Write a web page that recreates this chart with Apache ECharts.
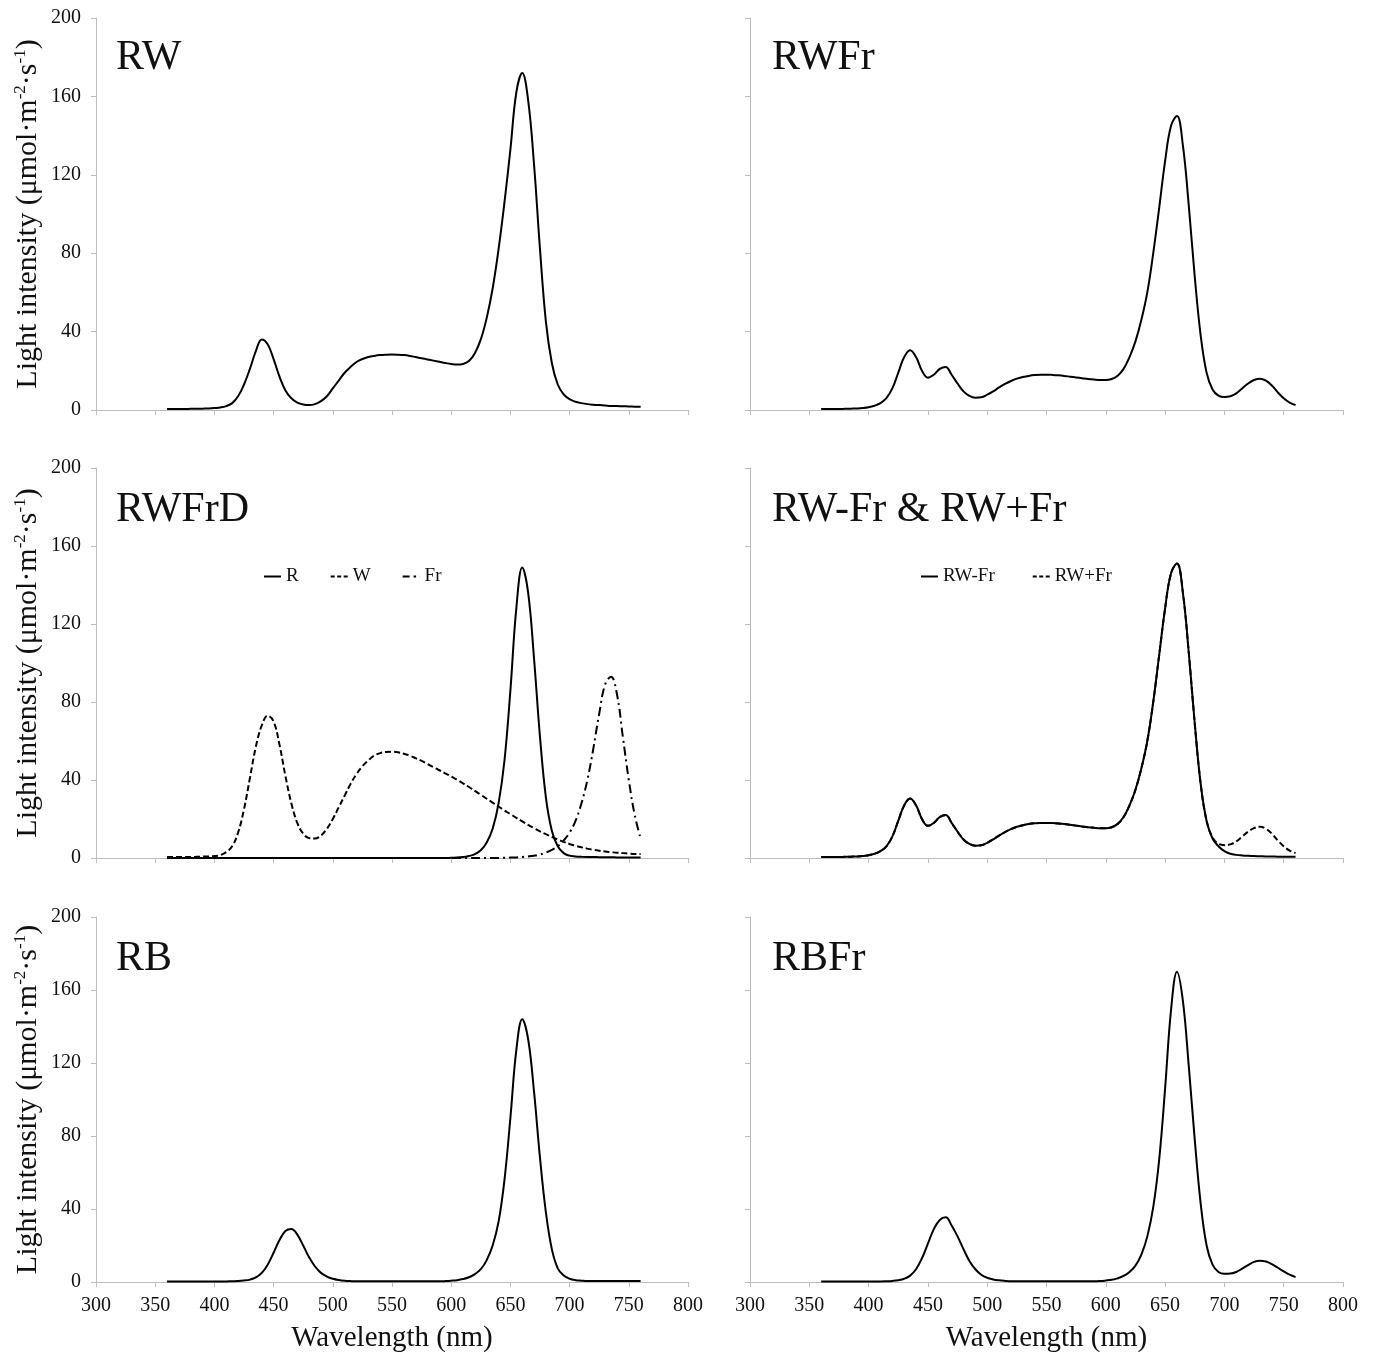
<!DOCTYPE html>
<html>
<head>
<meta charset="utf-8">
<script src="https://cdn.jsdelivr.net/npm/echarts@6/dist/echarts.min.js"></script>
<style>
html,body{margin:0;padding:0;background:#fff;}
#chart{width:1374px;height:1354px;}
</style>
</head>
<body>
<div id="chart"></div>
<script>
// Wavelength (nm), 360..760
const wavelength = [
  360,365,370,375,380,385,390,395,400,405,
  410,415,420,425,430,435,440,445,450,455,
  460,465,470,475,480,485,490,495,500,505,
  510,515,520,525,530,535,540,545,550,555,
  560,565,570,575,580,585,590,595,600,605,
  610,615,620,625,630,635,640,645,650,655,
  660,665,670,675,680,685,690,695,700,705,
  710,715,720,725,730,735,740,745,750,755,
  760
];
const xTicks = [300,350,400,450,500,550,600,650,700,750,800];
const yTicks = [0,40,80,120,160,200];

const RW = [
  0.5,0.5,0.5,0.5,0.6,0.6,0.7,0.8,1.0,1.3,
  2.0,3.5,7,13,21,30,36,33.5,26,17,
  10,6,3.8,2.8,2.5,3,4.5,7,11,15,
  19,22,24.5,26,27,27.6,28,28.2,28.3,28.2,
  28,27.6,27,26.4,25.8,25.2,24.6,24,23.5,23.2,
  23.5,25,29,36,47,62,82,106,133,162,
  172,158,125,82,45,24,13,8,5.5,4.2,
  3.5,3,2.7,2.5,2.3,2.1,2.0,1.9,1.8,1.7,
  1.6
];
const RWFr = [
  0.5,0.5,0.5,0.5,0.6,0.7,0.8,1.0,1.4,2.2,
  3.5,6,11,19,27,30.5,27,20,16.5,18,
  21,22,18,13.5,9.5,7.2,6.3,6.5,7.8,9.5,
  11.5,13.3,14.8,16,16.8,17.4,17.8,18,18,17.9,
  17.7,17.4,17,16.6,16.2,15.8,15.5,15.3,15.3,15.8,
  17.5,21,27,35,46,60,80,103,127,145,
  150,135,104,68,38,19,10.5,7.3,6.6,7,
  8.5,11,13.5,15.3,16,15,12.5,9,6,3.8,
  2.5
];
const R = [
  0,0,0,0,0,0,0,0,0,0,
  0,0,0,0,0,0,0,0,0,0,
  0,0,0,0,0,0,0,0,0,0,
  0,0,0,0,0,0,0,0,0,0,
  0,0,0,0,0,0,0,0,0.1,0.2,
  0.5,1,2,4,8,15,28,50,86,128,
  149,136,102,62,31,14,6,2.5,1.2,0.8,
  0.6,0.5,0.5,0.4,0.4,0.4,0.3,0.3,0.3,0.3,
  0.3
];
const W = [
  0.5,0.5,0.5,0.5,0.5,0.6,0.7,0.8,1,1.5,
  3,6,13,25,41,57,68,73,70,58,
  42,28,18,12.5,10.2,10,11.5,15,20,26,
  32,38,43,47,50,52.5,53.8,54.4,54.5,54.2,
  53.5,52.5,51.2,49.8,48.2,46.6,45,43.4,41.8,40.1,
  38.3,36.4,34.4,32.4,30.4,28.4,26.4,24.4,22.5,20.6,
  18.8,17,15.3,13.7,12.2,10.8,9.5,8.3,7.2,6.3,
  5.5,4.8,4.2,3.7,3.3,3,2.7,2.5,2.3,2.1,
  2
];
const Fr = [
  0,0,0,0,0,0,0,0,0,0,
  0,0,0,0,0,0,0,0,0,0,
  0,0,0,0,0,0,0,0,0,0,
  0,0,0,0,0,0,0,0,0,0,
  0,0,0,0,0,0,0,0,0,0,
  0,0,0,0,0,0,0,0.1,0.2,0.3,
  0.5,0.8,1.2,1.8,2.8,4.2,6,9,13,19,
  28,40,56,74,89,93,84,62,40,22,
  10
];
const RWminusFr = [
  0.5,0.5,0.5,0.5,0.6,0.7,0.8,1.0,1.4,2.2,
  3.5,6,11,19,27,30.5,27,20,16.5,18,
  21,22,18,13.5,9.5,7.2,6.3,6.5,7.8,9.5,
  11.5,13.3,14.8,16,16.8,17.4,17.8,18,18,17.9,
  17.7,17.4,17,16.6,16.2,15.8,15.5,15.3,15.3,15.8,
  17.5,21,27,35,46,60,80,104,128,146,
  151,136,105,69,38,19,10,6,3.5,2.2,
  1.6,1.3,1.1,1,0.9,0.8,0.8,0.7,0.7,0.6,
  0.6
];
const RWplusFr = [
  0.5,0.5,0.5,0.5,0.6,0.7,0.8,1.0,1.4,2.2,
  3.5,6,11,19,27,30.5,27,20,16.5,18,
  21,22,18,13.5,9.5,7.2,6.3,6.5,7.8,9.5,
  11.5,13.3,14.8,16,16.8,17.4,17.8,18,18,17.9,
  17.7,17.4,17,16.6,16.2,15.8,15.5,15.3,15.3,15.8,
  17.5,21,27,35,46,60,80,104,128,146,
  151,136,105,69,38,19,10.5,7.3,6.6,7,
  8.5,11,13.5,15.3,16,15,12.5,9,6,3.8,
  2.5
];
const RB = [
  0.3,0.3,0.3,0.3,0.3,0.3,0.3,0.3,0.3,0.3,
  0.3,0.4,0.5,0.8,1.3,2.5,5,9.5,16,23,
  28,29,26,20,13.5,8.5,5,3,1.8,1.1,
  0.7,0.5,0.4,0.4,0.4,0.4,0.4,0.4,0.4,0.4,
  0.4,0.4,0.4,0.4,0.4,0.4,0.4,0.5,0.7,1,
  1.6,2.6,4.3,7,12,20,33,56,90,127,
  144,133,104,68,38,18,7.5,3.5,1.8,1,
  0.7,0.5,0.5,0.5,0.5,0.5,0.5,0.5,0.5,0.5,
  0.5
];
const RBFr = [
  0.3,0.3,0.3,0.3,0.3,0.3,0.3,0.3,0.3,0.3,
  0.3,0.4,0.6,1,1.8,3.5,7,13,21,29,
  34,35.5,31,25,18,11.5,7,4,2.3,1.4,
  0.9,0.6,0.4,0.4,0.4,0.4,0.4,0.4,0.4,0.4,
  0.4,0.4,0.4,0.4,0.4,0.4,0.4,0.5,0.8,1.2,
  2,3.3,5.5,9,15,25,41,67,106,149,
  170,154,118,78,43,20,9.5,5.5,4.5,4.6,
  5.5,7.3,9.3,11,11.6,11.2,9.8,7.8,5.8,4,
  2.7
];
const panelTitles = ['RW','RWFr','RWFrD','RW-Fr & RW+Fr','RB','RBFr'];

const FONT = 'Liberation Serif, Times New Roman, serif';
const AXIS_GRAY = '#bdbdbd';
const TXT = '#111';

const grids = [
  {left:96, top:18, width:592, height:392},
  {left:750, top:18, width:593, height:392},
  {left:96, top:468, width:592, height:390},
  {left:750, top:468, width:593, height:390},
  {left:96, top:917, width:592, height:365},
  {left:750, top:917, width:593, height:365}
];

function pairs(arr){ return wavelength.map((w,i)=>[w,arr[i]]); }

const xAxes = grids.map((g,i)=>({
  type:'value', gridIndex:i, min:xTicks[0], max:xTicks[xTicks.length-1], interval:50,
  axisLine:{show:true, lineStyle:{color:AXIS_GRAY, width:1}},
  axisTick:{show:true, length:5, lineStyle:{color:AXIS_GRAY}},
  splitLine:{show:false},
  axisLabel:{show: i>=4, fontFamily:FONT, fontSize:20, color:TXT, margin:14},
  name: i>=4 ? 'Wavelength (nm)' : '',
  nameLocation:'middle', nameGap:42,
  nameTextStyle:{fontFamily:FONT, fontSize:29, color:TXT}
}));

const yAxes = grids.map((g,i)=>({
  type:'value', gridIndex:i, min:yTicks[0], max:yTicks[yTicks.length-1], interval:40,
  axisLine:{show:true, lineStyle:{color:AXIS_GRAY, width:1}},
  axisTick:{show:true, length:5, lineStyle:{color:AXIS_GRAY}},
  splitLine:{show:false},
  axisLabel:{show: i%2===0, fontFamily:FONT, fontSize:20, color:TXT, margin:15},
  name: i%2===0 ? '{a|Light intensity (μmol·m}{s|-2}{a|·s}{s|-1}{a|)}' : '',
  nameLocation:'middle', nameGap:52, nameRotate:90,
  nameTextStyle:{
    fontFamily:FONT, fontSize:30, color:TXT,
    rich:{
      a:{fontFamily:FONT, fontSize:30, color:TXT, lineHeight:32},
      s:{fontFamily:FONT, fontSize:17, color:TXT, lineHeight:18, verticalAlign:'top'}
    }
  }
}));

function line(name, data, idx, type, z){
  return {
    name:name, type:'line', xAxisIndex:idx, yAxisIndex:idx,
    data:pairs(data), symbol:'none', smooth:0.4, z:z||2,
    lineStyle:{color:'#000', width:2, type:type||'solid'},
    itemStyle:{color:'#000'}, silent:true
  };
}

const series = [
  line('RW', RW, 0),
  line('RWFr', RWFr, 1),
  line('W', W, 2, [6,3], 2),
  line('Fr', Fr, 2, [9,4,2,4], 2),
  line('R', R, 2, 'solid', 3),
  line('RW+Fr', RWplusFr, 3, [6,3], 2),
  line('RW-Fr', RWminusFr, 3, 'solid', 3),
  line('RB', RB, 4),
  line('RBFr', RBFr, 5)
];

const titlePos = [[116,37],[772,37],[116,489],[772,489],[116,938],[772,938]];
const titles = panelTitles.map((t,i)=>({
  text:t, left:titlePos[i][0], top:titlePos[i][1], padding:0,
  textStyle:{fontFamily:FONT, fontSize:42, fontWeight:'normal', color:TXT}
}));

const ICON_SOLID = 'path://M0,0h17v2h-17z';
const ICON_DASH = 'path://M0,0h4v2h-4z M6.5,0h4v2h-4z M13,0h4v2h-4z';
const ICON_DASHDOT = 'path://M0,0h7v2h-7z M11,0h2.5v2h-2.5z M16.9,0h0.1v2h-0.1z';

const legendCommon = {
  orient:'horizontal', itemWidth:17, itemHeight:2, padding:0,
  textStyle:{fontFamily:FONT, fontSize:19, color:TXT},
  selectedMode:false
};

const option = {
  animation:false,
  backgroundColor:'#fff',
  title:titles,
  grid:grids,
  xAxis:xAxes,
  yAxis:yAxes,
  legend:[
    Object.assign({}, legendCommon, {
      data:[{name:'R', icon:ICON_SOLID},{name:'W', icon:ICON_DASH},{name:'Fr', icon:ICON_DASHDOT}],
      left:264, top:567, itemGap:32}),
    Object.assign({}, legendCommon, {
      data:[{name:'RW-Fr', icon:ICON_SOLID},{name:'RW+Fr', icon:ICON_DASH}],
      left:921, top:567, itemGap:38})
  ],
  series:series
};

const chart = echarts.init(document.getElementById('chart'), null, {renderer:'canvas'});
chart.setOption(option);
</script>
</body>
</html>
